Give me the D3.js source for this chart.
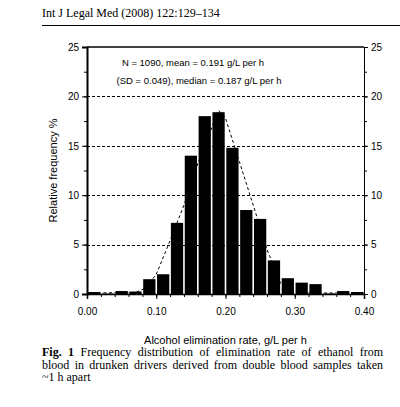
<!DOCTYPE html>
<html>
<head>
<meta charset="utf-8">
<script src="https://cdn.jsdelivr.net/npm/d3@7"></script>
<style>
  body { margin: 0; background: #fff; }
  svg { display: block; }
  .sans { font-family: "Liberation Sans", Arial, sans-serif; }
  .serif { font-family: "Liberation Serif", "Times New Roman", serif; }
</style>
</head>
<body>
<div id="chart"></div>
<script>
// bins of 0.02 g/L per h, relative frequency %
const binStarts = [0.00, 0.02, 0.04, 0.06, 0.08, 0.10, 0.12, 0.14, 0.16, 0.18,
                   0.20, 0.22, 0.24, 0.26, 0.28, 0.30, 0.32, 0.34, 0.36, 0.38];
const freqs = [0.2, 0.05, 0.3, 0.25, 1.5, 2.0, 7.2, 14.0, 18.0, 18.4,
               14.8, 8.5, 7.6, 3.4, 1.6, 1.15, 1.0, 0.05, 0.3, 0.2];
const binWidth = 0.02;

// dashed fitted line
const curveX = [0.00, 0.07, 0.085, 0.10, 0.12, 0.14, 0.16, 0.19, 0.20, 0.22, 0.24, 0.26, 0.28, 0.30, 0.40];
const curveY = [0.1, 0.15, 0.6, 2.0, 5.4, 9.0, 13.2, 18.6, 17.8, 13.4, 9.0, 4.5, 1.0, 0.1, 0.1];

const xTicks = [0.00, 0.10, 0.20, 0.30, 0.40];
const yTicks = [0, 5, 10, 15, 20, 25];
const gridLines = [5, 10, 15, 20];

const headerText = 'Int J Legal Med (2008) 122:129\u2013134';
const noteLines = ['N = 1090, mean = 0.191 g/L per h', '(SD = 0.049), median = 0.187 g/L per h'];
const captionLines = [
  'Frequency distribution of elimination rate of ethanol from',
  'blood in drunken drivers derived from double blood samples taken',
  '~1 h apart'
];

const W = 400, H = 407;
const margin = {left: 87, right: 36, top: 47, bottom: 113};

const svg = d3.select('#chart').append('svg')
    .attr('width', W)
    .attr('height', H);

// page header
svg.append('text')
    .attr('class', 'serif')
    .attr('x', 42).attr('y', 17)
    .attr('font-size', 12)
    .text(headerText);
svg.append('line')
    .attr('x1', 42).attr('x2', 400)
    .attr('y1', 25.5).attr('y2', 25.5)
    .attr('stroke', '#000').attr('stroke-width', 1);

const x = d3.scaleLinear().domain([0, 0.40]).range([margin.left, W - margin.right]);
const y = d3.scaleLinear().domain([0, 25]).range([H - margin.bottom, margin.top]);

const g = svg.append('g');

// dashed grid lines
g.selectAll('.grid')
  .data(gridLines)
  .enter().append('line')
    .attr('x1', x(0)).attr('x2', x(0.40))
    .attr('y1', d => Math.round(y(d)) + 0.5).attr('y2', d => Math.round(y(d)) + 0.5)
    .attr('stroke', '#000')
    .attr('stroke-width', 1)
    .attr('stroke-dasharray', '3,2');

// bars
const bins = binStarts.map((b, i) => ({x0: b, x1: b + binWidth, v: freqs[i]}));
g.selectAll('.bar')
  .data(bins)
  .enter().append('rect')
    .attr('x', d => x(d.x0) + 0.8)
    .attr('width', d => x(d.x1) - x(d.x0) - 1.6)
    .attr('y', d => y(d.v))
    .attr('height', d => y(0) - y(d.v))
    .attr('fill', '#000');

// dashed curve
const curve = curveX.map((v, i) => [v, curveY[i]]);
g.append('path')
    .datum(curve)
    .attr('fill', 'none')
    .attr('stroke', '#000')
    .attr('stroke-width', 1)
    .attr('stroke-dasharray', '3,2.5')
    .attr('d', d3.line().x(d => x(d[0])).y(d => y(d[1])));

// frame top
g.append('line')
    .attr('x1', x(0)).attr('x2', x(0.40))
    .attr('y1', y(25)).attr('y2', y(25))
    .attr('stroke', '#000').attr('stroke-width', 1.5);

// axes
const yMinor = d3.range(0, 25.01, 2.5);
const xMinor = d3.range(0, 0.4001, 0.02);

const leftAxis = d3.axisLeft(y).tickValues(yTicks).tickSize(5).tickPadding(3).tickFormat(d3.format('d'));
const rightAxis = d3.axisRight(y).tickValues(yTicks).tickSize(4).tickPadding(3).tickFormat(d3.format('d'));
const bottomAxis = d3.axisBottom(x).tickValues(xTicks).tickSize(5).tickPadding(9).tickFormat(d3.format('.2f'));

function styleAxis(sel, w) {
  sel.select('.domain').attr('stroke-width', w);
  sel.selectAll('text').attr('class', 'sans').attr('font-size', 10).attr('fill', '#000');
  sel.attr('font-family', null);
}

g.append('g')
    .attr('transform', `translate(${x(0)},0)`)
    .call(leftAxis)
    .call(s => styleAxis(s, 2));
g.append('g')
    .attr('transform', `translate(${x(0)},0)`)
    .call(d3.axisLeft(y).tickValues(yMinor).tickSize(3).tickFormat(''))
    .call(s => s.select('.domain').remove());

g.append('g')
    .attr('transform', `translate(${x(0.40)},0)`)
    .call(rightAxis)
    .call(s => styleAxis(s, 1));
g.append('g')
    .attr('transform', `translate(${x(0.40)},0)`)
    .call(d3.axisRight(y).tickValues(yMinor).tickSize(3).tickFormat(''))
    .call(s => s.select('.domain').remove());

g.append('g')
    .attr('transform', `translate(0,${y(0)})`)
    .call(bottomAxis)
    .call(s => styleAxis(s, 1.5));
g.append('g')
    .attr('transform', `translate(0,${y(0)})`)
    .call(d3.axisBottom(x).tickValues(xMinor).tickSize(3).tickFormat(''))
    .call(s => s.select('.domain').remove());

// note inside plot
svg.append('text')
    .attr('class', 'sans')
    .attr('x', 193).attr('y', 66)
    .attr('text-anchor', 'middle')
    .attr('font-size', 9.5)
    .text(noteLines[0]);
svg.append('text')
    .attr('class', 'sans')
    .attr('x', 199).attr('y', 84)
    .attr('text-anchor', 'middle')
    .attr('font-size', 9.5)
    .text(noteLines[1]);

// axis titles
svg.append('text')
    .attr('class', 'sans')
    .attr('transform', `translate(57,${(y(0) + y(25)) / 2}) rotate(-90)`)
    .attr('text-anchor', 'middle')
    .attr('font-size', 11)
    .text('Relative frequency %');

svg.append('text')
    .attr('class', 'sans')
    .attr('x', (x(0) + x(0.40)) / 2).attr('y', 344)
    .attr('text-anchor', 'middle')
    .attr('font-size', 11)
    .text('Alcohol elimination rate, g/L per h');

// caption, justified by widening the word gaps
const capWidth = 341;
function justify(t) {
  const n = t.text().split(' ').length - 1;
  const w = t.node().getComputedTextLength();
  if (n > 0 && w < capWidth) t.attr('word-spacing', (capWidth - w) / n);
}

const cap = svg.append('text')
    .attr('class', 'serif')
    .attr('x', 42).attr('y', 356)
    .attr('font-size', 12);
cap.append('tspan').attr('font-weight', 'bold').text('Fig. 1 ');
cap.append('tspan').text(captionLines[0]);
justify(cap);

const cap2 = svg.append('text')
    .attr('class', 'serif')
    .attr('x', 42).attr('y', 368.5)
    .attr('font-size', 12)
    .text(captionLines[1]);
justify(cap2);

svg.append('text')
    .attr('class', 'serif')
    .attr('x', 42).attr('y', 381)
    .attr('font-size', 12)
    .text(captionLines[2]);
</script>
</body>
</html>
